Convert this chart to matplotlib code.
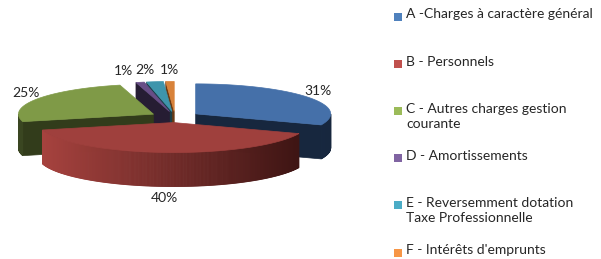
import numpy as np
import matplotlib.pyplot as plt
from matplotlib.patches import Polygon, Rectangle
from matplotlib.colors import to_rgb

plt.rcParams['font.family'] = ['Lato', 'DejaVu Sans']

categories = ['A -Charges à caractère général', 'B - Personnels',
              'C - Autres charges gestion\ncourante', 'D - Amortissements',
              'E - Reversemment dotation\nTaxe Professionnelle',
              "F - Intérêts d'emprunts"]
values = [31, 40, 25, 1, 2, 1]
# small sideways shift of the crowded labels
label_nudge = [0, 0, 0, -14, -8, 0]

top_colors = ['#4570A9', '#9F403D', '#7F9A47', '#684E87', '#3E95AC', '#D8823A']
side_light = ['#21385A', '#A8433F', '#3A4621', '#2F243F', '#22525E', '#8A4E1E']
side_dark = ['#17273E', '#3A1312', '#323C1B', '#261D33', '#1A3F48', '#6A3A14']
legend_colors = ['#4F81BD', '#C0504D', '#9BBB59', '#8064A2', '#4BACC6', '#F79646']
text_color = '#262626'

# pie geometry in pixel units
cx, cy = 175, 117
rx, ry = 135, 30
depth = 34
explode = 25


def mix(c1, c2, t):
    a, b = np.array(to_rgb(c1)), np.array(to_rgb(c2))
    return tuple(a + (b - a) * t)


fig = plt.figure(figsize=(6.01, 2.59), dpi=100)
ax = fig.add_axes([0, 0, 1, 1])
ax.set_xlim(0, 601)
ax.set_ylim(259, 0)
ax.axis('off')

total = sum(values)
bounds = []
start = 90.0
for v in values:
    hi = start
    lo = start - 360.0 * v / total
    bounds.append((lo, hi))
    start = lo

mids = [np.radians((lo + hi) / 2) for lo, hi in bounds]
order = sorted(range(len(values)), key=lambda i: -np.sin(mids[i]))

for i in order:
    lo, hi = bounds[i]
    m = mids[i]
    ox = cx + explode * np.cos(m)
    oy = cy - explode * (ry / rx) * np.sin(m)
    th = np.radians(np.linspace(lo, hi, max(int((hi - lo) * 2), 4)))
    px = ox + rx * np.cos(th)
    py = oy - ry * np.sin(th)

    # radial walls facing the viewer
    for ang, vis in ((np.radians(lo), np.cos(np.radians(lo)) > 1e-9),
                     (np.radians(hi), np.cos(np.radians(hi)) < -1e-9)):
        if vis:
            ex, ey = ox + rx * np.cos(ang), oy - ry * np.sin(ang)
            ax.add_patch(Polygon([(ox, oy), (ex, ey), (ex, ey + depth), (ox, oy + depth)],
                                 closed=True, fc=side_dark[i], ec=side_dark[i], lw=0.5))

    # outer rim wall
    for k in range(len(th) - 1):
        mm = (th[k] + th[k + 1]) / 2
        if np.sin(mm) < 0:
            col = mix(side_light[i], side_dark[i], (1 + np.cos(mm)) / 2)
            ax.add_patch(Polygon([(px[k], py[k]), (px[k + 1], py[k + 1]),
                                  (px[k + 1], py[k + 1] + depth), (px[k], py[k] + depth)],
                                 closed=True, fc=col, ec=col, lw=0.6))

    # top face
    ax.add_patch(Polygon(np.column_stack([np.r_[ox, px], np.r_[oy, py]]),
                         closed=True, fc=top_colors[i], ec=top_colors[i], lw=0.5))

    # percentage label
    lx = ox + rx * 1.1 * np.cos(m) + label_nudge[i]
    ly = oy - ry * 1.38 * np.sin(m) + (depth if np.sin(m) < 0 else 0)
    ax.text(lx, ly, f'{round(values[i] / total * 100)}%', ha='center', va='center',
            fontsize=10, color=text_color)

# legend
for i, name in enumerate(categories):
    y = 16.5 + i * 47.2
    ax.add_patch(Rectangle((394, y - 4), 8, 8, fc=legend_colors[i], ec='none'))
    ax.text(406, y - 8, name, ha='left', va='top', fontsize=10,
            color=text_color, linespacing=1.28)

fig.savefig('out.png', dpi=100)
